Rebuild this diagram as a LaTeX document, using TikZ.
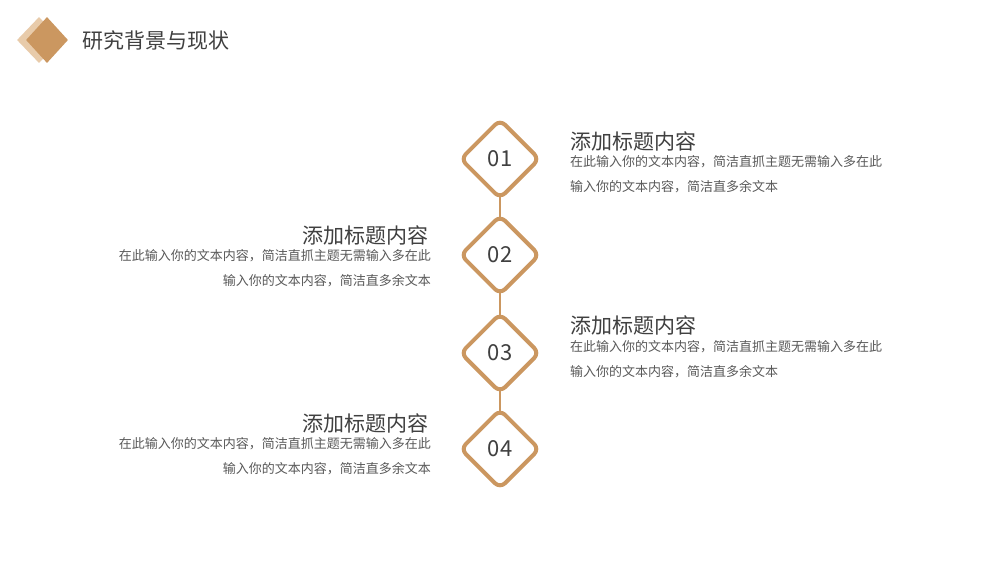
\documentclass[tikz,border=0pt]{standalone}
\usepackage{fontspec}
\setmainfont{Noto Sans CJK SC}
\usetikzlibrary{positioning,shapes.geometric}
\definecolor{tan}{RGB}{203,151,96}
\definecolor{tanlight}{RGB}{232,203,170}
\definecolor{ink}{RGB}{64,64,64}
\definecolor{body}{RGB}{89,89,89}

\begin{document}
\begin{tikzpicture}[x=1pt,y=-1pt,
  num/.style={diamond,draw=tan,line width=4pt,rounded corners=7pt,minimum width=80pt,minimum height=80pt,
    fill=white,inner sep=0pt,text=ink,font=\fontsize{22}{22}\selectfont},
  ttl/.style={inner sep=0pt,text=ink,font=\fontsize{21}{21}\selectfont},
  txt/.style={inner sep=0pt,text=body,font=\fontsize{13}{25}\selectfont},
  link/.style={draw=tan,line width=2pt,shorten <=-5pt,shorten >=-5pt}]
\fill[white] (0,0) rectangle (1000,563);
\useasboundingbox (0,0) rectangle (1000,563);
% header
\node[diamond,fill=tanlight,minimum width=44pt,minimum height=46pt,inner sep=0pt] (logoback) at (39,40) {};
\node[diamond,fill=tan,minimum width=42pt,minimum height=46pt,inner sep=0pt] (logo) at (47,40) {};
\node[ttl,anchor=west] (head) at (82,40) {研究背景与现状};
% steps
\node[num] (d1) at (500,159) {01};
\node[num] (d2) at (500,255) {02};
\node[num] (d3) at (500,353) {03};
\node[num] (d4) at (500,449) {04};
\draw[link] (d1.south)--(d2.north);
\draw[link] (d2.south)--(d3.north);
\draw[link] (d3.south)--(d4.north);
% texts
\node[ttl,anchor=west] (t1) at (570,141) {添加标题内容};
\node[txt,anchor=north west,align=left] (b1) at (570,155) {在此输入你的文本内容，简洁直抓主题无需输入多在此\\输入你的文本内容，简洁直多余文本};
\node[ttl,anchor=east] (t2) at (429,235) {添加标题内容};
\node[txt,anchor=north east,align=right] (b2) at (431,249) {在此输入你的文本内容，简洁直抓主题无需输入多在此\\输入你的文本内容，简洁直多余文本};
\node[ttl,anchor=west] (t3) at (570,325) {添加标题内容};
\node[txt,anchor=north west,align=left] (b3) at (570,340) {在此输入你的文本内容，简洁直抓主题无需输入多在此\\输入你的文本内容，简洁直多余文本};
\node[ttl,anchor=east] (t4) at (429,423) {添加标题内容};
\node[txt,anchor=north east,align=right] (b4) at (431,437) {在此输入你的文本内容，简洁直抓主题无需输入多在此\\输入你的文本内容，简洁直多余文本};
\end{tikzpicture}
\end{document}
